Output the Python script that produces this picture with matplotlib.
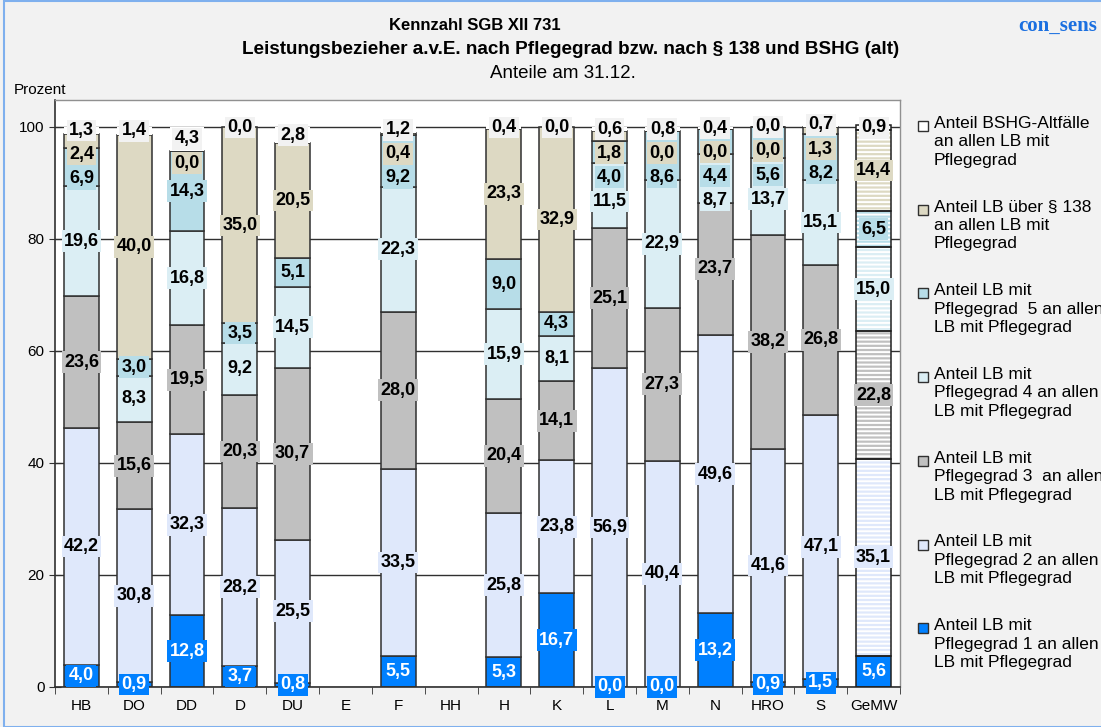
import numpy as np
import matplotlib
matplotlib.use("Agg")
import matplotlib.pyplot as plt
from matplotlib.patches import Rectangle
from matplotlib.ticker import MultipleLocator

plt.rcParams['font.family'] = ['Liberation Sans', 'DejaVu Sans']
plt.rcParams['hatch.linewidth'] = 1.4

nan = np.nan

# Staedte / Vergleichsring
staedte = ["HB", "DO", "DD", "D", "DU", "E", "F", "HH", "H", "K",
           "L", "M", "N", "HRO", "S", "GeMW"]

# Anteile in Prozent, je Pflegegrad-Gruppe (unten nach oben gestapelt)
pg1 = [4.0, 0.9, 12.8, 3.7, 0.8, nan, 5.5, nan, 5.3, 16.7, 0.0, 0.0, 13.2, 0.9, 1.5, 5.6]
pg2 = [42.2, 30.8, 32.3, 28.2, 25.5, nan, 33.5, nan, 25.8, 23.8, 56.9, 40.4, 49.6, 41.6, 47.1, 35.1]
pg3 = [23.6, 15.6, 19.5, 20.3, 30.7, nan, 28.0, nan, 20.4, 14.1, 25.1, 27.3, 23.7, 38.2, 26.8, 22.8]
pg4 = [19.6, 8.3, 16.8, 9.2, 14.5, nan, 22.3, nan, 15.9, 8.1, 11.5, 22.9, 8.7, 13.7, 15.1, 15.0]
pg5 = [6.9, 3.0, 14.3, 3.5, 5.1, nan, 9.2, nan, 9.0, 4.3, 4.0, 8.6, 4.4, 5.6, 8.2, 6.5]
par138 = [2.4, 40.0, 0.0, 35.0, 20.5, nan, 0.4, nan, 23.3, 32.9, 1.8, 0.0, 0.0, 0.0, 1.3, 14.4]
bshg = [1.3, 1.4, 4.3, 0.0, 2.8, nan, 1.2, nan, 0.4, 0.0, 0.6, 0.8, 0.4, 0.0, 0.7, 0.9]

reihen = [pg1, pg2, pg3, pg4, pg5, par138, bshg]
farben = ["#0080ff", "#dfe8fb", "#c0c0c0", "#dbeef4", "#b7dde8", "#ddd9c3", "#ffffff"]
label_bg = ["#0080ff", "#dfe8fb", "#c0c0c0", "#dbeef4", "#b7dde8", "#ddd9c3", "#f2f2f2"]
legende = [
    "Anteil LB mit\nPflegegrad 1 an allen\nLB mit Pflegegrad",
    "Anteil LB mit\nPflegegrad 2 an allen\nLB mit Pflegegrad",
    "Anteil LB mit\nPflegegrad 3  an allen\nLB mit Pflegegrad",
    "Anteil LB mit\nPflegegrad 4 an allen\nLB mit Pflegegrad",
    "Anteil LB mit\nPflegegrad  5 an allen\nLB mit Pflegegrad",
    "Anteil LB über § 138\nan allen LB mit\nPflegegrad",
    "Anteil BSHG-Altfälle\nan allen LB mit\nPflegegrad",
]

fig = plt.figure(figsize=(11.01, 7.27), dpi=100, facecolor="#f2f2f2")
ax = fig.add_axes([55 / 1101, 1 - 687 / 727, 845 / 1101, 587 / 727])
ax.set_facecolor("white")

x = np.arange(len(staedte))
breite = 0.66
werte = np.array(reihen, dtype=float)
unten = np.vstack([np.zeros(len(x)), np.cumsum(werte, axis=0)[:-1]])
gemw = staedte.index("GeMW")
normal = np.array([s != "GeMW" for s in staedte])

ax.yaxis.grid(True, color="#303030", lw=1)
ax.set_axisbelow(True)

for i, (w, b) in enumerate(zip(werte, unten)):
    kante = "none" if i == 6 else "#303030"
    ax.bar(x[normal], w[normal], breite, bottom=b[normal], color=farben[i],
           edgecolor=kante, linewidth=1.1, zorder=2)
    # Mittelwert schraffiert
    ax.bar(x[gemw], w[gemw], breite, bottom=b[gemw], color=farben[i],
           edgecolor="white", linewidth=0, hatch=None if i == 0 else "----", zorder=2)
    ax.bar(x[gemw], w[gemw], breite, bottom=b[gemw], fill=False,
           edgecolor="#202020", linewidth=1.1, zorder=3)

# Datenbeschriftungen, von oben nach unten ohne Ueberlappung
abstand = 4.3
for j in range(len(x)):
    oben = None
    for i in range(len(reihen) - 1, -1, -1):
        v = werte[i, j]
        if np.isnan(v):
            continue
        c = unten[i, j] + v / 2
        if oben is not None and c > oben - abstand:
            c = oben - abstand
        oben = c
        txt = f"{v:.1f}".replace(".", ",")
        ax.text(x[j], c, txt, ha="center", va="center", fontsize=13,
                fontweight="bold", color="white" if i == 0 else "black",
                zorder=5, clip_on=False,
                bbox=dict(boxstyle="square,pad=0.13", fc=label_bg[i], ec="none"))

ax.set_xlim(-0.5, len(x) - 0.5)
ax.set_ylim(0, 104.8)
ax.set_xticks(x)
ax.set_xticklabels(staedte, fontsize=11)
ax.xaxis.set_minor_locator(MultipleLocator(1, offset=0.5))
ax.tick_params(axis="x", which="major", length=0, pad=9)
ax.tick_params(axis="x", which="minor", length=5, direction="out", color="#303030")
ax.yaxis.set_major_locator(MultipleLocator(20))
ax.tick_params(axis="y", labelsize=11, direction="inout", length=9, pad=3, color="#303030")

for s in ["left", "bottom"]:
    ax.spines[s].set_color("#303030")
    ax.spines[s].set_linewidth(1.2)
for s in ["top", "right"]:
    ax.spines[s].set_color("#909090")
    ax.spines[s].set_linewidth(1)

fig.text(14 / 1101, 1 - 90 / 727, "Prozent", fontsize=11, va="center")

# Titel
fig.text(475 / 1101, 1 - 26 / 727, "Kennzahl SGB XII 731", ha="center", va="center",
         fontsize=12, fontweight="bold")
fig.text(571 / 1101, 1 - 50 / 727,
         "Leistungsbezieher a.v.E. nach Pflegegrad bzw. nach § 138 und BSHG (alt)",
         ha="center", va="center", fontsize=13.6, fontweight="bold")
fig.text(563 / 1101, 1 - 73 / 727, "Anteile am 31.12.", ha="center", va="center",
         fontsize=13.5)
fig.text(1097 / 1101, 1 - 26 / 727, "con_sens", ha="right", va="center", fontsize=15,
         family="Liberation Serif", fontweight="bold", color="#1a6fe0")

# Legende rechts, oberster Eintrag zuerst
for k, i in enumerate(range(len(reihen) - 1, -1, -1)):
    y0 = 1 - (126 + k * 83.7) / 727
    fig.patches.append(Rectangle((918 / 1101, y0 - 5 / 727), 10 / 1101, 10 / 727,
                                 transform=fig.transFigure, fc=farben[i],
                                 ec="#303030", lw=1))
    fig.text(934 / 1101, y0 + 10 / 727, legende[i], fontsize=12.5, va="top",
             ha="left", linespacing=1.28)

# Rahmen
fig.patches.append(Rectangle((4 / 1101, 0), 1.0, 0.998, transform=fig.transFigure,
                             fill=False, ec="#7fb0ee", lw=1.5))

fig.savefig("out.png", dpi=100, facecolor=fig.get_facecolor())
